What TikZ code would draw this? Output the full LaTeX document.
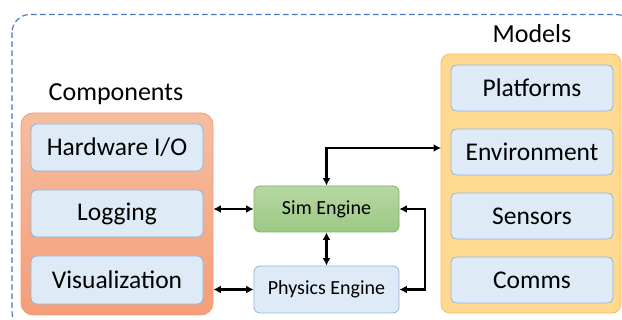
\documentclass[tikz,border=0pt]{standalone}
\usepackage{fontspec}
\setmainfont{Carlito}
\usetikzlibrary{arrows.meta}
\definecolor{dashblue}{HTML}{4472C4}
\definecolor{compTop}{HTML}{F6BDA0}
\definecolor{compBot}{HTML}{F49E78}
\definecolor{compLine}{HTML}{F19C74}
\definecolor{boxFill}{HTML}{DEEBF7}
\definecolor{boxLine}{HTML}{8FB4E0}
\definecolor{simTop}{HTML}{B7D7A3}
\definecolor{simBot}{HTML}{9CC985}
\definecolor{simLine}{HTML}{7FB35F}
\definecolor{modFill}{HTML}{FFD98F}
\definecolor{modLine}{HTML}{F3C050}
\begin{document}
\begin{tikzpicture}[x=1pt,y=-1pt,
  inbox/.style={draw=boxLine, fill=boxFill, rounded corners=6pt, line width=0.8pt,
    minimum width=172pt, minimum height=47pt, inner sep=0pt, font=\fontsize{25.5}{28}\selectfont},
  mbox/.style={inbox, minimum width=162pt, minimum height=46pt},
  engbox/.style={rounded corners=6pt, line width=0.8pt, minimum width=145pt,
    minimum height=46pt, inner sep=0pt, font=\fontsize{20}{22}\selectfont},
  grp/.style={font=\fontsize{26}{28}\selectfont, inner sep=0pt},
  arr/.style={line width=2.4pt, {Latex[length=7.5pt,width=8pt]}-{Latex[length=7.5pt,width=8pt]}}
]
\useasboundingbox (0,0) rectangle (622,320);
\begin{scope}
\clip (0,0) rectangle (622,320);
\draw[dashblue, line width=1.1pt, dash pattern=on 5.5pt off 3.5pt, rounded corners=18pt]
  (12,14.5) rectangle (634,330);
\end{scope}

% Components
\node[draw=compLine, top color=compTop, bottom color=compBot, rounded corners=12pt,
  line width=0.8pt, minimum width=192pt, minimum height=202pt, inner sep=0pt] (comp) at (117,214) {};
\node[grp] (complabel) at (116,94) {Components};
\node[inbox] (hw) at (117,147.5) {Hardware I/O};
\node[inbox] (log) at (117,213.5) {Logging};
\node[inbox, minimum height=48pt] (vis) at (117,280) {Visualization};

% Models
\node[draw=modLine, fill=modFill, rounded corners=9pt, line width=0.8pt,
  minimum width=180pt, minimum height=259pt, inner sep=0pt] (models) at (531,183.5) {};
\node[grp] (modlabel) at (532,34) {Models};
\node[mbox] (plat) at (532,88) {Platforms};
\node[mbox] (env) at (532,152) {Environment};
\node[mbox] (sens) at (532,216) {Sensors};
\node[mbox] (comms) at (532,280) {Comms};

% Engines
\node[engbox, draw=simLine, top color=simTop, bottom color=simBot] (sim) at (326.5,209) {Sim Engine};
\node[engbox, draw=boxLine, fill=boxFill, minimum height=47pt] (phys) at (326.5,289.5) {Physics Engine};

% Connectors
\coordinate (mtarget) at (441,148);
\coordinate (loopx) at (425,209);
\draw[arr] (comp.east |- sim.west) -- (sim.west);
\draw[arr] (comp.east |- phys.west) -- (phys.west);
\draw[arr] (sim.south) -- (phys.north);
\draw[arr] (sim.north) |- (mtarget);
\draw[arr] (sim.east) -- (loopx) |- (phys.east);
\end{tikzpicture}
\end{document}
